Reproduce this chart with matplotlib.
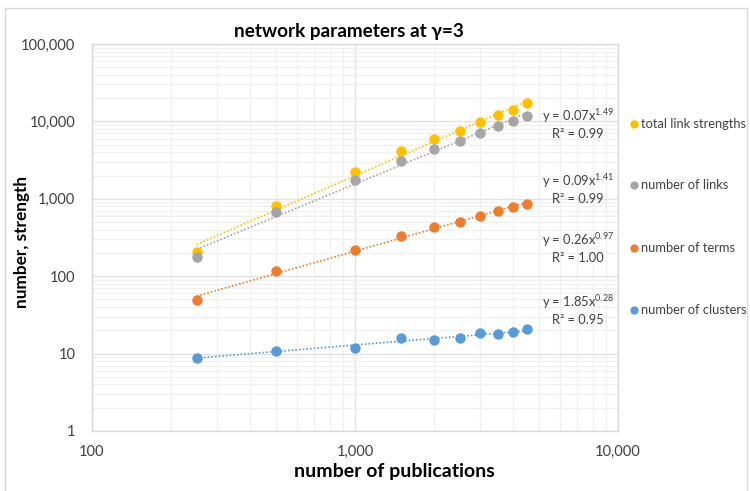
import numpy as np
import matplotlib
matplotlib.use("Agg")
import matplotlib.pyplot as plt
from matplotlib.ticker import FuncFormatter, LogLocator, NullFormatter
from matplotlib.lines import Line2D
from matplotlib.patches import Rectangle

plt.rcParams['font.family'] = ['Lato', 'DejaVu Sans']
plt.rcParams['mathtext.default'] = 'regular'

publications = [250, 500, 1000, 1500, 2000, 2500, 3000, 3500, 4000, 4500]
total_link_strengths = [207, 815, 2240, 4110, 5880, 7520, 9730, 12200, 14200, 17100]
number_of_links = [179, 675, 1750, 3050, 4400, 5530, 7020, 8720, 10100, 11850]
number_of_terms = [49, 118, 220, 334, 432, 506, 594, 695, 784, 857]
number_of_clusters = [8.9, 10.9, 11.8, 15.8, 14.9, 15.8, 18.6, 17.9, 18.9, 20.6]

series_names = ["total link strengths", "number of links", "number of terms", "number of clusters"]
series_values = [total_link_strengths, number_of_links, number_of_terms, number_of_clusters]
series_colors = ["#FFC000", "#A5A5A5", "#ED7D31", "#5B9BD5"]
fit_labels = [("0.07", "1.49", "0.99"), ("0.09", "1.41", "0.99"),
              ("0.26", "0.97", "1.00"), ("1.85", "0.28", "0.95")]

W, H = 750, 491
fig = plt.figure(figsize=(7.5, 4.91), dpi=100)
ax = fig.add_axes([92 / W, 1 - 431 / H, (618 - 92) / W, (431 - 44) / H])

x = np.array(publications, dtype=float)
for vals, col in zip(series_values, series_colors):
    y = np.array(vals, dtype=float)
    b, a = np.polyfit(np.log10(x), np.log10(y), 1)
    xf = np.array([x.min(), x.max()])
    ax.plot(xf, 10 ** a * xf ** b, linestyle=(0, (1, 1.2)), color=col, lw=1.2, zorder=2)
    ax.plot(x, y, 'o', color=col, markersize=7.5, markeredgewidth=0, zorder=3)

ax.set_xscale('log')
ax.set_yscale('log')
ax.set_xlim(100, 10000)
ax.set_ylim(1, 100000)

fmt = FuncFormatter(lambda v, p: f"{v:,.0f}")
ax.xaxis.set_major_formatter(fmt)
ax.yaxis.set_major_formatter(fmt)
ax.xaxis.set_major_locator(LogLocator(base=10, numticks=10))
ax.yaxis.set_major_locator(LogLocator(base=10, numticks=10))
ax.xaxis.set_minor_locator(LogLocator(base=10, subs=np.arange(2, 10), numticks=20))
ax.yaxis.set_minor_locator(LogLocator(base=10, subs=np.arange(2, 10), numticks=20))
ax.xaxis.set_minor_formatter(NullFormatter())
ax.yaxis.set_minor_formatter(NullFormatter())

ax.grid(True, which='major', color='#E2E2E2', lw=1.0, zorder=0)
ax.grid(True, which='minor', color='#F0F0F0', lw=0.9, zorder=0)
ax.set_axisbelow(True)
ax.tick_params(which='both', length=0)
ax.tick_params(axis='y', pad=12, labelsize=10.5, labelcolor='#404040')
ax.tick_params(axis='x', pad=10, labelsize=10.5, labelcolor='#404040')
for s in ax.spines.values():
    s.set_color('#D9D9D9')
    s.set_linewidth(1.0)

fig.text(349 / W, 1 - 32 / H, "network parameters at γ=3", ha='center', va='center',
         fontsize=13.6, fontweight='bold', color='#000000')
fig.text(394 / W, 1 - 472 / H, "number of publications", ha='center', va='center',
         fontsize=14, fontweight='bold', color='#000000')
fig.text(22 / W, 1 - 242 / H, "number, strength", ha='center', va='center', rotation=90,
         fontsize=12.4, fontweight='bold', color='#000000')

eq_y = [116, 181, 240, 302]
for (a_s, b_s, r_s), yy in zip(fit_labels, eq_y):
    fig.text(578 / W, 1 - yy / H, f"y = {a_s}x$^{{{b_s}}}$", ha='center', va='center',
             fontsize=9.3, color='#404040')
    fig.text(578 / W, 1 - (yy + 18) / H, f"R² = {r_s}", ha='center', va='center',
             fontsize=9.3, color='#404040')

leg_y = [124, 185, 248, 310]
for name, col, yy in zip(series_names, series_colors, leg_y):
    fig.add_artist(Line2D([634 / W], [1 - yy / H], marker='o', color=col, markersize=6,
                          markeredgewidth=0, transform=fig.transFigure))
    fig.text(641 / W, 1 - yy / H, name, ha='left', va='center', fontsize=9.3, color='#404040')

fig.add_artist(Rectangle((5 / W, -0.01), (747 - 5) / W, 1 - 8 / H + 0.01, fill=False,
                         edgecolor='#D9D9D9', lw=1.0, transform=fig.transFigure))

fig.savefig("out.png", dpi=100)
